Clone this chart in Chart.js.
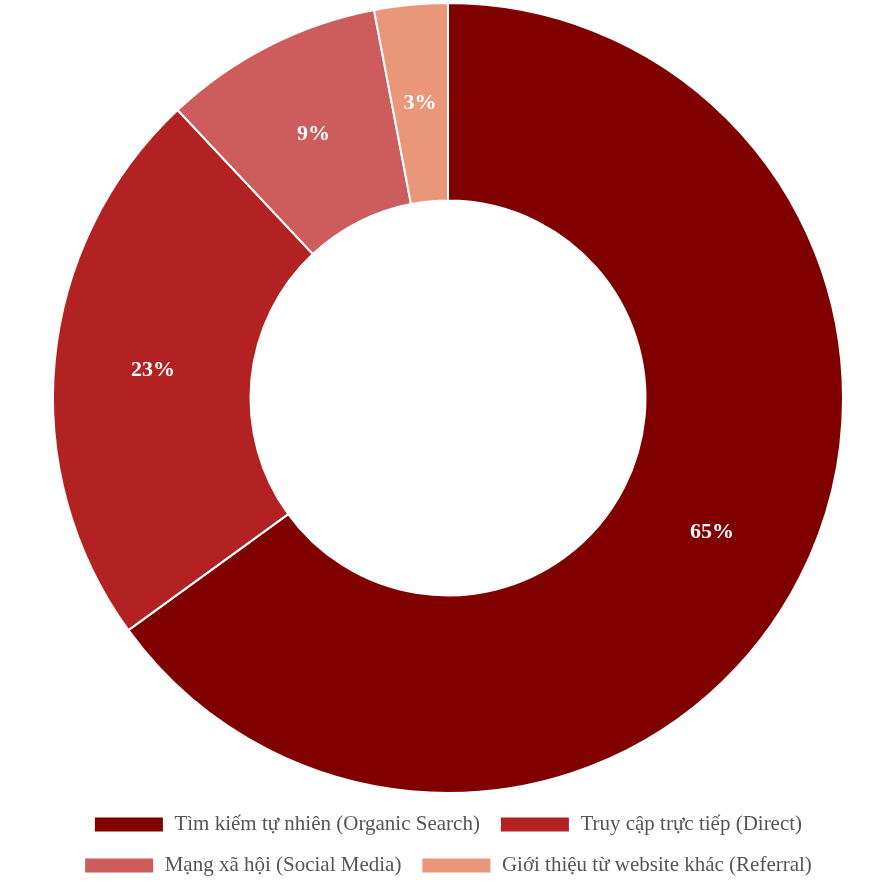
<!DOCTYPE html>
<html>
<head>
<meta charset="utf-8">
<script src="https://cdn.jsdelivr.net/npm/chart.js@4"></script>
<style>
  html, body { margin: 0; padding: 0; background: #fff; }
  #wrap { width: 896px; height: 896px; }
</style>
</head>
<body>
<div id="wrap"><canvas id="chart"></canvas></div>
<script>
// --- DATA ---
const labels = [
    'Tìm kiếm tự nhiên (Organic Search)',
    'Truy cập trực tiếp (Direct)',
    'Mạng xã hội (Social Media)',
    'Giới thiệu từ website khác (Referral)'
];
const shares = [65, 23, 9, 3];
const colors = ['#800000', '#B22222', '#CD5C5C', '#E9967A'];

// draws the percentage text on each slice
const sliceLabels = {
    id: 'sliceLabels',
    afterDatasetsDraw(chart) {
        const ctx = chart.ctx;
        const total = shares.reduce((a, b) => a + b, 0);
        chart.getDatasetMeta(0).data.forEach((arc, i) => {
            const p = arc.tooltipPosition();
            ctx.save();
            ctx.fillStyle = '#fff';
            ctx.font = "bold 22px 'Liberation Serif', serif";
            ctx.textAlign = 'center';
            ctx.textBaseline = 'middle';
            ctx.fillText(Math.round(shares[i] / total * 100) + '%', p.x, p.y);
            ctx.restore();
        });
    }
};

new Chart(document.getElementById('chart'), {
    type: 'doughnut',
    data: {
        labels: labels,
        datasets: [{
            data: shares,
            backgroundColor: colors,
            borderColor: '#fff',
            borderWidth: 2
        }]
    },
    options: {
        responsive: true, maintainAspectRatio: false, animation: false,
        cutout: '50%',
        layout: { padding: { top: 2, bottom: 10 } },
        plugins: {
            legend: {
                position: 'bottom',
                labels: {
                    boxWidth: 70, boxHeight: 16, padding: 20,
                    color: '#555',
                    font: { family: "'Liberation Serif', serif", size: 21 }
                }
            },
            tooltip: { enabled: false }
        }
    },
    plugins: [sliceLabels]
});
</script>
</body>
</html>
